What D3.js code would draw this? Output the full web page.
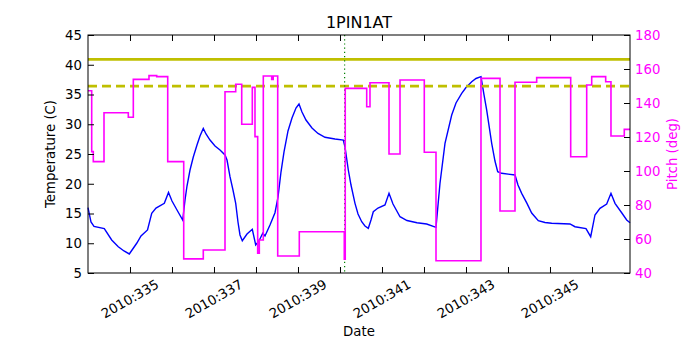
<!DOCTYPE html>
<html>
<head>
<meta charset="utf-8">
<script src="https://cdn.jsdelivr.net/npm/d3@7"></script>
<style>
  body { margin: 0; background: #fff; }
  text { font-family: "DejaVu Sans", sans-serif; }
</style>
</head>
<body>
<div id="chart"></div>
<script>
// temperature (blue), day of year 2010
var tempDays = [334.0, 334.071, 334.143, 334.388, 334.564, 334.721, 334.857, 334.983, 335.16, 335.262,
  335.417, 335.517, 335.619, 335.817, 335.917, 336.0, 336.119, 336.255, 336.31, 336.357,
  336.429, 336.507, 336.595, 336.667, 336.745, 336.81, 336.905, 337.024, 337.143, 337.262,
  337.31, 337.381, 337.452, 337.517, 337.571, 337.619, 337.674, 337.786, 337.912, 337.993,
  338.071, 338.16, 338.214, 338.333, 338.452, 338.524, 338.595, 338.667, 338.762, 338.857,
  338.952, 339.024, 339.095, 339.19, 339.333, 339.476, 339.643, 339.881, 340.079, 340.119,
  340.198, 340.262, 340.357, 340.429, 340.517, 340.595, 340.674, 340.738, 340.793, 340.905,
  341.071, 341.167, 341.262, 341.429, 341.595, 341.833, 342.064, 342.286, 342.381, 342.5,
  342.66, 342.762, 342.898, 343.0, 343.136, 343.238, 343.357, 343.429, 343.493, 343.612,
  343.69, 343.755, 343.85, 344.167, 344.238, 344.326, 344.452, 344.564, 344.721, 344.881,
  345.04, 345.476, 345.595, 345.857, 345.969, 346.071, 346.19, 346.35, 346.452, 346.548,
  346.707, 346.826, 346.905];
var tempVals = [16.0, 13.57, 12.82, 12.45, 10.55, 9.42, 8.7, 8.2, 10.0, 11.22,
  12.23, 15.03, 15.92, 16.71, 18.53, 17.1, 15.59, 13.91, 17.27, 19.62,
  22.31, 24.5, 26.51, 28.03, 29.29, 28.36, 27.35, 26.34, 25.67, 24.83,
  23.99, 21.18, 18.95, 16.71, 13.57, 11.39, 10.43, 11.55, 12.34, 9.71,
  10.38, 11.67, 11.22, 13.07, 15.13, 17.77, 21.97, 25.34, 28.87, 31.05,
  32.73, 33.4, 32.06, 30.71, 29.37, 28.45, 27.81, 27.52, 27.35, 26.18,
  22.31, 19.79, 16.71, 14.92, 13.62, 12.9, 12.51, 13.91, 15.3, 15.92,
  16.43, 18.39, 16.6, 14.46, 13.82, 13.45, 13.24, 12.68, 20.08, 26.8,
  31.55, 33.57, 35.2, 36.18, 37.15, 37.69, 37.99, 34.92, 32.39, 26.8,
  23.82, 22.03, 21.76, 21.47, 19.79, 18.39, 16.71, 15.08, 13.79, 13.49,
  13.35, 13.24, 12.78, 12.45, 11.1, 14.75, 15.87, 16.6, 18.39, 16.71,
  15.13, 13.91, 13.45];

// pitch (magenta), held until next change
var pitchDays = [334.0, 334.088, 334.126, 334.381, 334.96, 335.079, 335.452, 335.636, 335.898, 336.279,
  336.745, 337.262, 337.517, 337.66, 337.912, 337.976, 338.04, 338.079, 338.174, 338.374,
  338.41, 338.517, 339.031, 340.102, 340.125, 340.636, 340.714, 341.167, 341.429, 342.007,
  342.286, 343.357, 343.81, 344.167, 344.683, 345.493, 345.874, 345.993, 346.326, 346.452,
  346.769, 346.905];
var pitchVals = [147.2, 111.4, 105.5, 134.3, 131.6, 153.9, 156.1, 155.5, 105.5, 48.3,
  53.5, 146.6, 151.0, 127.5, 149.2, 120.2, 51.6, 59.4, 155.9, 153.9,
  155.9, 50.0, 64.3, 48.1, 148.6, 137.8, 151.9, 110.0, 153.5, 111.0,
  47.2, 154.5, 76.5, 152.2, 154.9, 108.4, 150.6, 155.5, 152.5, 120.6,
  124.5, 124.5];

var limitSolid = 40.9;   // temperature
var limitDashed = 36.4;  // temperature
var markerDay = 340.11;

var dayTicks = d3.range(335, 347);
var labelDays = [335, 337, 339, 341, 343, 345];
var labelText = ["2010:335", "2010:337", "2010:339", "2010:341", "2010:343", "2010:345"];
var tempTicks = [5, 10, 15, 20, 25, 30, 35, 40, 45];
var pitchTicks = [40, 60, 80, 100, 120, 140, 160, 180];

var svgWidth = 700, svgHeight = 350;
var margin = {top: 35, right: 70, bottom: 77, left: 88};
var w = svgWidth - margin.left - margin.right;
var h = svgHeight - margin.top - margin.bottom;

var svg = d3.select("#chart").append("svg")
  .attr("width", svgWidth)
  .attr("height", svgHeight);

var g = svg.append("g")
  .attr("transform", `translate(${margin.left},${margin.top})`);

var x = d3.scaleLinear().domain([334.0, 346.905]).range([0, w]);
var yT = d3.scaleLinear().domain([5, 45]).range([h, 0]);
var yP = d3.scaleLinear().domain([40, 180]).range([h, 0]);

var tempData = tempDays.map((d, i) => [d, tempVals[i]]);
var pitchData = pitchDays.map((d, i) => [d, pitchVals[i]]);

// temperature line
g.append("path")
  .datum(tempData)
  .attr("fill", "none")
  .attr("stroke", "#0000ff")
  .attr("stroke-width", 1.4)
  .attr("d", d3.line().x(d => x(d[0])).y(d => yT(d[1])));

// limit lines
g.append("line")
  .attr("x1", 0).attr("x2", w)
  .attr("y1", yT(limitSolid)).attr("y2", yT(limitSolid))
  .attr("stroke", "#bfbf00").attr("stroke-width", 2.6);
g.append("line")
  .attr("x1", 0).attr("x2", w)
  .attr("y1", yT(limitDashed)).attr("y2", yT(limitDashed))
  .attr("stroke", "#bfbf00").attr("stroke-width", 2.6)
  .attr("stroke-dasharray", "9,5");

// vertical marker
g.append("line")
  .attr("x1", x(markerDay)).attr("x2", x(markerDay))
  .attr("y1", 0).attr("y2", h)
  .attr("stroke", "#008000").attr("stroke-width", 1.2)
  .attr("stroke-dasharray", "1.2,3");

// pitch step line
g.append("path")
  .datum(pitchData)
  .attr("fill", "none")
  .attr("stroke", "#ff00ff")
  .attr("stroke-width", 1.6)
  .attr("d", d3.line().curve(d3.curveStepAfter).x(d => x(d[0])).y(d => yP(d[1])));

// axes, ticks pointing in
var leftAx = g.append("g")
  .call(d3.axisLeft(yT).tickValues(tempTicks).tickSize(-6).tickPadding(6));
var rightAx = g.append("g")
  .attr("transform", `translate(${w},0)`)
  .call(d3.axisRight(yP).tickValues(pitchTicks).tickSize(-6).tickPadding(5));
var bottomAx = g.append("g")
  .attr("transform", `translate(0,${h})`)
  .call(d3.axisBottom(x).tickValues(dayTicks).tickSize(-6).tickFormat(""));
var topAx = g.append("g")
  .call(d3.axisTop(x).tickValues(dayTicks).tickSize(-6).tickFormat(""));

[leftAx, rightAx, bottomAx, topAx].forEach(function(a) {
  a.select(".domain").remove();
  a.selectAll("text").attr("font-size", "13.3px").attr("font-family", "DejaVu Sans");
});
rightAx.selectAll("text").attr("fill", "#ff00ff");

// frame
g.append("rect")
  .attr("width", w).attr("height", h)
  .attr("fill", "none").attr("stroke", "#000").attr("stroke-width", 1);

// rotated date labels
g.selectAll(".xlab")
  .data(labelDays)
  .enter()
  .append("text")
  .attr("class", "xlab")
  .attr("transform", (d) => `translate(${x(d)},${h + 26}) rotate(-30)`)
  .attr("text-anchor", "middle")
  .attr("dominant-baseline", "central")
  .attr("font-size", "13.3px")
  .text((d, i) => labelText[i]);

// titles
svg.append("text")
  .attr("x", margin.left + w / 2).attr("y", 28)
  .attr("text-anchor", "middle")
  .attr("font-size", "16px")
  .text("1PIN1AT");

svg.append("text")
  .attr("x", margin.left + w / 2).attr("y", 336)
  .attr("text-anchor", "middle")
  .attr("font-size", "13.3px")
  .text("Date");

svg.append("text")
  .attr("transform", `translate(55,${margin.top + h / 2}) rotate(-90)`)
  .attr("text-anchor", "middle")
  .attr("font-size", "13.3px")
  .text("Temperature (C)");

svg.append("text")
  .attr("transform", `translate(672,${margin.top + h / 2}) rotate(-90)`)
  .attr("text-anchor", "middle")
  .attr("dominant-baseline", "central")
  .attr("font-size", "13.3px")
  .attr("fill", "#ff00ff")
  .text("Pitch (deg)");
</script>
</body>
</html>
